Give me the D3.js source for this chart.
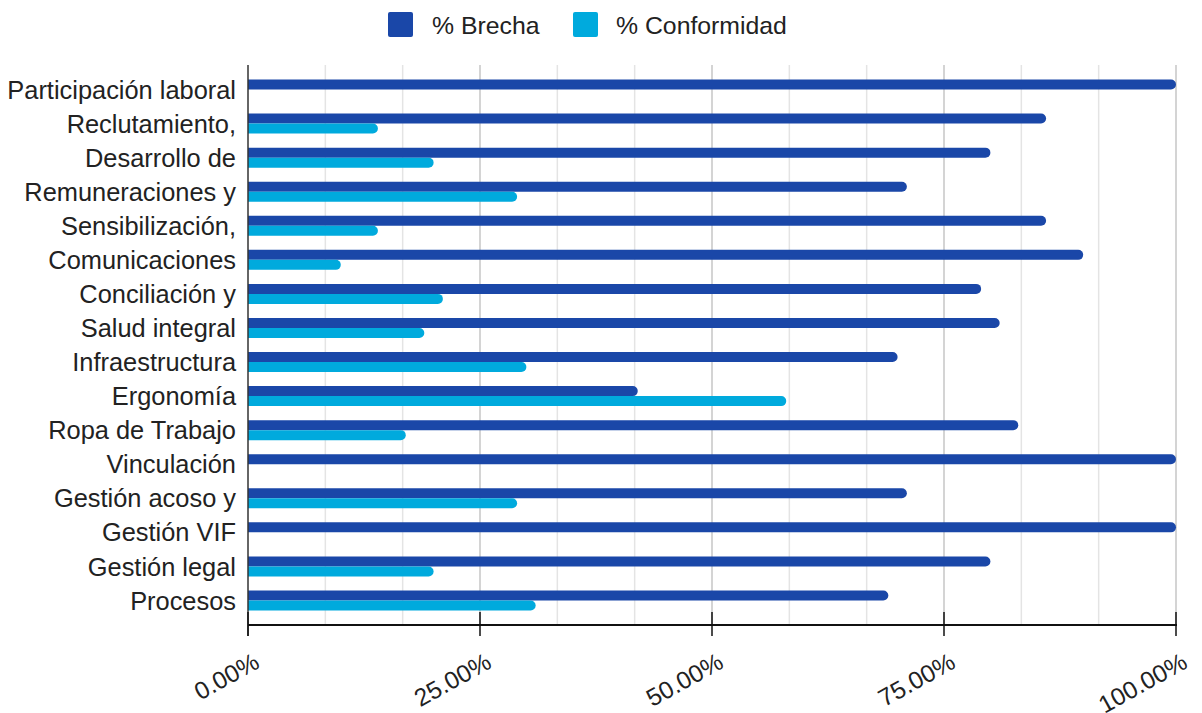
<!DOCTYPE html>
<html><head><meta charset="utf-8">
<script src="https://cdn.jsdelivr.net/npm/d3@7/dist/d3.min.js"></script>
<style>body{margin:0;background:#fff;} text{font-family:"Liberation Sans",Arial,sans-serif;}</style>
</head><body><svg id="c" width="1202" height="713"></svg>
<script>
const categories = ["Participación laboral","Reclutamiento,","Desarrollo de","Remuneraciones y","Sensibilización,","Comunicaciones","Conciliación y","Salud integral","Infraestructura","Ergonomía","Ropa de Trabajo","Vinculación","Gestión acoso y","Gestión VIF","Gestión legal","Procesos"];
const brecha = [100,86,80,71,86,90,79,81,70,42,83,100,71,100,80,69];
const conformidad = [0,14,20,29,14,10,21,19,30,58,17,0,29,0,20,31];
const seriesNames = ["% Brecha","% Conformidad"];
const colors = ["#1a47a8","#00aadd"];
const tickValues = [0,25,50,75,100];

const svg = d3.select("#c");
const L=248,R=1176,T=65,B=625;
const x = d3.scaleLinear().domain([0,100]).range([L,R]);
const y = d3.scaleBand().domain(categories).range([T,B]).paddingInner(0).paddingOuter(0.22);

// gridlines
const minor = d3.range(0,101,25/3).filter(v=>Math.abs(v%25)>0.01 && Math.abs(v%25-25)>0.01);
svg.append("g").selectAll("line").data(minor).join("line")
  .attr("x1",d=>x(d)).attr("x2",d=>x(d)).attr("y1",T).attr("y2",B)
  .attr("stroke","#e4e4e4").attr("stroke-width",1.5);
svg.append("g").selectAll("line").data(tickValues.slice(1)).join("line")
  .attr("x1",d=>x(d)).attr("x2",d=>x(d)).attr("y1",T).attr("y2",B)
  .attr("stroke","#c6c6c6").attr("stroke-width",1.5);

function barPath(x0,x1,y0,h){
  const r=Math.min(h/2,(x1-x0));
  return `M${x0},${y0}H${x1-r}A${r},${r} 0 0 1 ${x1},${y0+r}V${y0+h-r}A${r},${r} 0 0 1 ${x1-r},${y0+h}H${x0}Z`;
}
const bh=10;
const data = categories.map((c,i)=>({c,b:brecha[i],f:conformidad[i]}));
svg.append("g").selectAll("path").data(data.filter(d=>d.b>0)).join("path")
  .attr("d",d=>barPath(x(0),x(d.b),y(d.c)+y.bandwidth()/2-bh,bh)).attr("fill",colors[0]);
svg.append("g").selectAll("path").data(data.filter(d=>d.f>0)).join("path")
  .attr("d",d=>barPath(x(0),x(d.f),y(d.c)+y.bandwidth()/2,bh)).attr("fill",colors[1]);

// left axis line
svg.append("line").attr("x1",L).attr("x2",L).attr("y1",T).attr("y2",636).attr("stroke","#333").attr("stroke-width",1.5);
// category labels
svg.append("g").selectAll("text").data(categories).join("text")
  .attr("x",236).attr("y",d=>y(d)+y.bandwidth()/2).attr("dy","0.36em")
  .attr("text-anchor","end").attr("font-size",25.4).attr("fill","#222").text(d=>d);

// bottom axis
svg.append("line").attr("x1",L).attr("x2",R+1).attr("y1",B).attr("y2",B).attr("stroke","#111").attr("stroke-width",2);
svg.append("g").selectAll("line").data(tickValues).join("line")
  .attr("x1",d=>x(d)).attr("x2",d=>x(d)).attr("y1",612).attr("y2",636).attr("stroke","#111").attr("stroke-width",1.5);
svg.append("g").selectAll("text").data(tickValues).join("text")
  .attr("transform",d=>`translate(${x(d)+13},667) rotate(-29)`)
  .attr("text-anchor","end").attr("font-size",24.5).attr("fill","#222")
  .text(d=>d3.format(".2f")(d)+"%");

// legend
const lg = svg.append("g");
const lx=[388,573], tx=[432,616];
seriesNames.forEach((s,i)=>{
  lg.append("rect").attr("x",lx[i]).attr("y",12).attr("width",25).attr("height",25).attr("rx",2).attr("fill",colors[i]);
  lg.append("text").attr("x",tx[i]).attr("y",25).attr("dy","0.36em").attr("font-size",24.8).attr("fill","#222").text(s);
});
</script></body></html>
